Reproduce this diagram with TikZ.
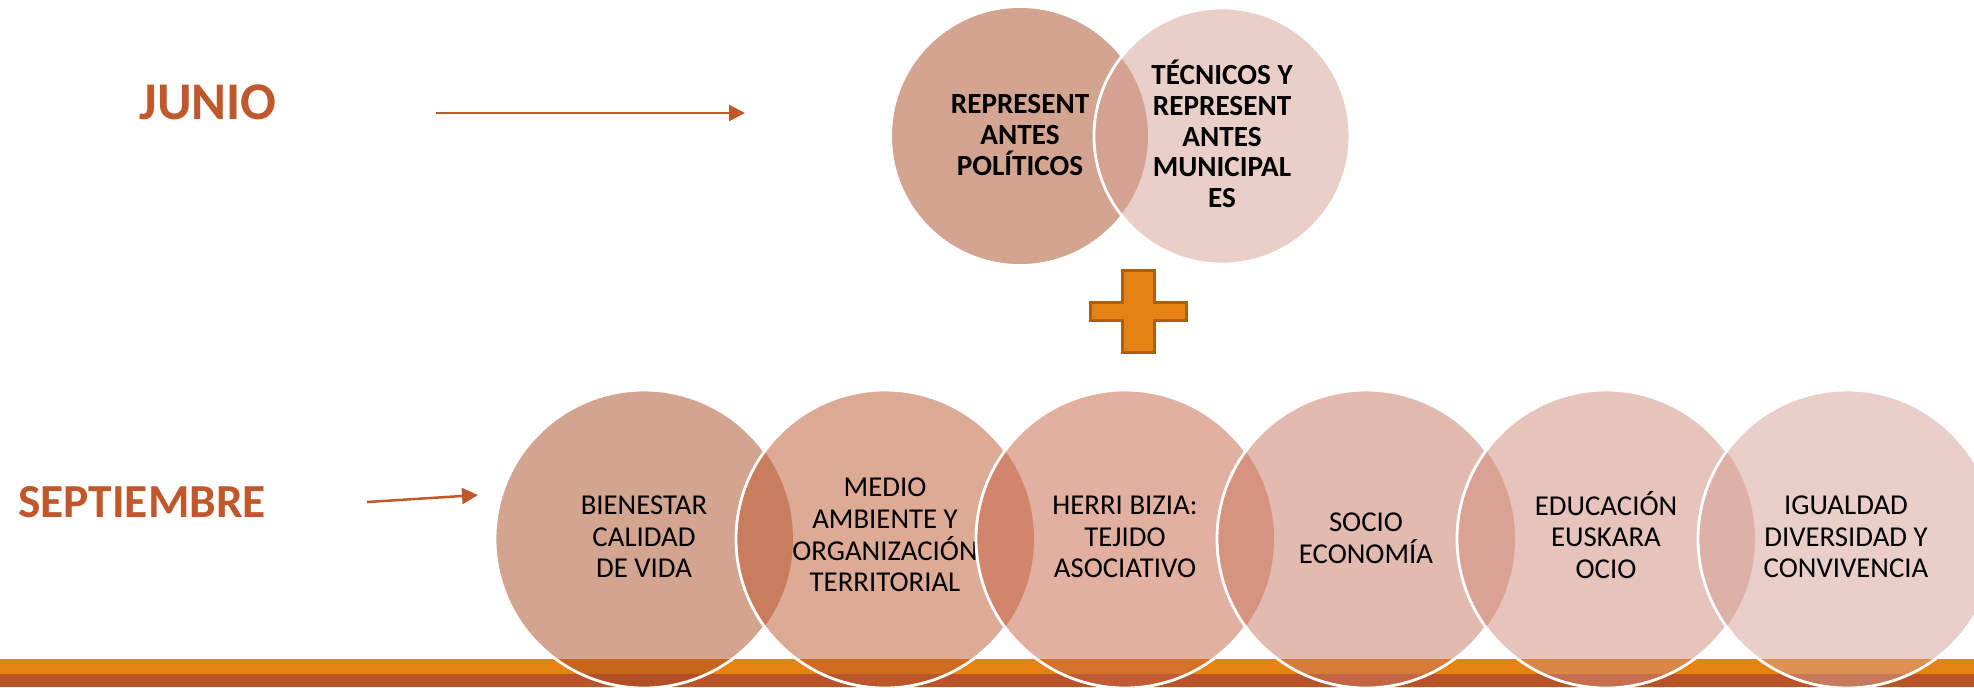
\documentclass[tikz,border=0pt]{standalone}
\usepackage{fontspec}
\setmainfont{Carlito}
\usetikzlibrary{arrows.meta}
\definecolor{labelc}{RGB}{192,88,44}
\definecolor{barorange}{RGB}{228,131,18}
\definecolor{bardark}{RGB}{185,84,40}
\definecolor{plusfill}{RGB}{230,130,20}
\definecolor{plusdraw}{RGB}{168,96,18}
\definecolor{tA}{RGB}{169,77,37}
\definecolor{tB}{RGB}{215,161,147}
\definecolor{cA}{RGB}{169,75,35}
\definecolor{cB}{RGB}{189,87,45}
\definecolor{cC}{RGB}{199,99,67}
\definecolor{cD}{RGB}{201,119,97}
\definecolor{cE}{RGB}{209,139,121}
\definecolor{cF}{RGB}{213,159,149}
\begin{document}
\begin{tikzpicture}[x=0.5pt,y=-0.5pt,
  veil/.style={fill opacity=0.5},
  outl/.style={draw=white, line width=1.4pt},
  bt/.style={font=\fontsize{14.4pt}{15.8pt}\selectfont, align=center, text=black, inner sep=0pt},
  tt/.style={font=\bfseries\fontsize{14.6pt}{15.4pt}\selectfont, align=center, text=black, inner sep=0pt},
  lab/.style={font=\bfseries, text=labelc, inner sep=0pt},
  arr/.style={draw=labelc, line width=1.25pt, -{Triangle[length=8pt,width=8pt]}},
  plusbox/.style={fill=plusfill, draw=plusdraw, line width=1.5pt, line join=miter}
]
\useasboundingbox (0,0) rectangle (1974,687);
\fill[white] (0,0) rectangle (1974,687);

% bottom bars
\fill[barorange] (0,659) rectangle (1974,674);
\fill[bardark] (0,674) rectangle (1974,687);

% labels and arrows
\node[lab, font=\bfseries\fontsize{26.5pt}{30pt}\selectfont] (junio) at (208,102) {JUNIO};
\node[lab, font=\bfseries\fontsize{23.7pt}{28pt}\selectfont] (sept) at (142,502.5) {SEPTIEMBRE};
\coordinate (ja) at (436,113);
\coordinate (jb) at (745,113);
\coordinate (sa) at (367,502);
\coordinate (sb) at (478,495);
\draw[arr] (ja) -- (jb);
\draw[arr] (sa) -- (sb);

% top circles
\fill[tA, veil] (1020,136) circle[radius=128];
\fill[tB, veil] (1222,136) circle[radius=128];
\draw[outl] (1222,136) circle[radius=128];
\node[tt] (rp) at (1020,135) {REPRESENT\\ANTES\\POLÍTICOS};
\node[tt] (tm) at (1222,134) {TÉCNICOS Y\\REPRESENT\\ANTES\\MUNICIPAL\\ES};

% plus sign
\draw[plusbox] (1122.5,270.5) -- (1154.5,270.5) -- (1154.5,302.5) -- (1186.5,302.5)
  -- (1186.5,320.5) -- (1154.5,320.5) -- (1154.5,352.5) -- (1122.5,352.5)
  -- (1122.5,320.5) -- (1090.5,320.5) -- (1090.5,302.5) -- (1122.5,302.5) -- cycle;

% bottom circles
\fill[cA, veil] (644,539) circle[radius=149];
\draw[outl] (644,539) ++(36.15:149) arc[start angle=36.15, end angle=323.85, radius=149];
\node[bt] (b1) at (644,537) {BIENESTAR\\CALIDAD\\DE VIDA};

\fill[cB, veil] (885,539) circle[radius=149];
\draw[outl] (885,539) ++(36.15:149) arc[start angle=36.15, end angle=323.85, radius=149];
\node[bt] (b2) at (885,535) {MEDIO\\AMBIENTE Y\\ORGANIZACIÓN\\TERRITORIAL};

\fill[cC, veil] (1125,539) circle[radius=149];
\draw[outl] (1125,539) ++(36.15:149) arc[start angle=36.15, end angle=323.85, radius=149];
\node[bt] (b3) at (1125,537) {HERRI BIZIA:\\TEJIDO\\ASOCIATIVO};

\fill[cD, veil] (1366,539) circle[radius=149];
\draw[outl] (1366,539) ++(36.15:149) arc[start angle=36.15, end angle=323.85, radius=149];
\node[bt] (b4) at (1366,538) {SOCIO\\ECONOMÍA};

\fill[cE, veil] (1606,539) circle[radius=149];
\draw[outl] (1606,539) ++(36.15:149) arc[start angle=36.15, end angle=323.85, radius=149];
\node[bt] (b5) at (1606,535) {EDUCACIÓN\\EUSKARA\\OCIO};

\fill[cF, veil] (1847,539) circle[radius=149];
\draw[outl] (1847,539) circle[radius=149];
\node[bt] (b6) at (1846,537) {IGUALDAD\\DIVERSIDAD Y\\CONVIVENCIA};
\end{tikzpicture}
\end{document}
